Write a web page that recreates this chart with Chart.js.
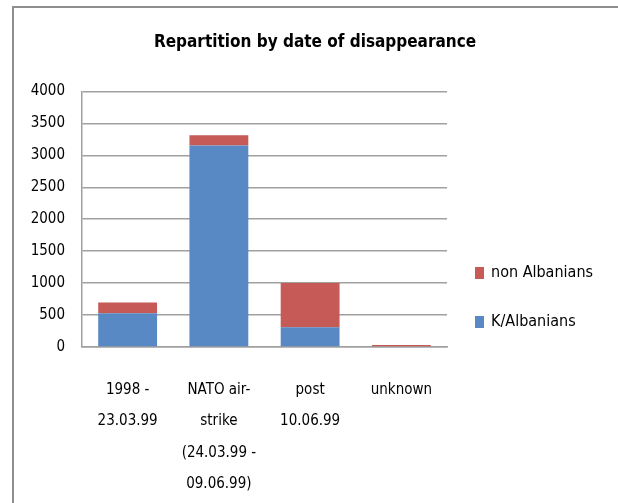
<!DOCTYPE html>
<html>
<head>
<meta charset="utf-8">
<script src="https://cdn.jsdelivr.net/npm/chart.js@4/dist/chart.umd.min.js"></script>
<style>
html, body { margin: 0; padding: 0; background: #fff; }
</style>
</head>
<body>
<canvas id="repartitionChart" width="618" height="503"></canvas>
<script>
// categories (multi-line labels as in the original)
var periods = [
    ['1998 -', '23.03.99'],
    ['NATO air-', 'strike', '(24.03.99 -', '09.06.99)'],
    ['post', '10.06.99'],
    'unknown'
];
var kAlbanians = [530, 3155, 310, 0];
var nonAlbanians = [165, 160, 690, 30];
var yMin = 0, yMax = 4000, yStep = 500;

var narrow = "'Liberation Sans Narrow', 'DejaVu Sans Condensed', 'Liberation Sans', sans-serif";

// grey frame round the chart (top and left edge only, like the screenshot)
var frame = {
    id: 'frame',
    beforeDraw: function (chart) {
        var ctx = chart.ctx;
        ctx.save();
        ctx.strokeStyle = '#8e8e8e';
        ctx.lineWidth = 2;
        ctx.beginPath();
        ctx.moveTo(13, chart.height);
        ctx.lineTo(13, 7);
        ctx.lineTo(chart.width, 7);
        ctx.stroke();
        ctx.restore();
    }
};

// legend on the right, lower half, series in reverse order
var sideLegend = {
    id: 'sideLegend',
    afterDraw: function (chart) {
        var ctx = chart.ctx, area = chart.chartArea;
        var items = chart.data.datasets.slice().reverse();
        ctx.save();
        ctx.font = '16px ' + narrow;
        ctx.textBaseline = 'middle';
        items.forEach(function (ds, i) {
            var y = area.bottom - 74 + i * 49;
            var x = area.right + 28;
            ctx.fillStyle = ds.backgroundColor;
            ctx.fillRect(x, y - 6, 9, 12);
            ctx.fillStyle = '#000';
            ctx.fillText(ds.label, x + 16, y);
        });
        ctx.restore();
    }
};

var ctx = document.getElementById('repartitionChart').getContext('2d');
new Chart(ctx, {
    type: 'bar',
    data: {
        labels: periods,
        datasets: [
            {label: 'K/Albanians', data: kAlbanians, backgroundColor: '#5889c4'},
            {label: 'non Albanians', data: nonAlbanians, backgroundColor: '#c55a57'}
        ]
    },
    options: {
        responsive: false,
        animation: false,
        layout: {padding: {left: 12, right: 0, top: 0, bottom: 0}},
        datasets: {bar: {categoryPercentage: 1, barPercentage: 0.645}},
        plugins: {
            legend: {display: false},
            tooltip: {enabled: false},
            title: {
                display: true,
                text: 'Repartition by date of disappearance',
                color: '#000',
                font: {family: narrow, size: 17, weight: 'bold', lineHeight: 1.2},
                padding: {top: 32, bottom: 39}
            }
        },
        scales: {
            x: {
                stacked: true,
                grid: {display: false, drawTicks: false},
                border: {display: true, color: '#a0a0a0', width: 1.5},
                ticks: {color: '#000', padding: 28, maxRotation: 0, autoSkip: false,
                        font: {family: narrow, size: 15, lineHeight: 2.07}},
                afterFit: function (s) { s.height = 156; }
            },
            y: {
                stacked: true,
                min: yMin,
                max: yMax,
                grid: {color: '#a0a0a0', lineWidth: 1.5, drawTicks: false},
                border: {display: true, color: '#a0a0a0', width: 1.5},
                ticks: {stepSize: yStep, color: '#000', padding: 17,
                        font: {family: narrow, size: 15},
                        callback: function (v) { return String(v); }},
                afterFit: function (s) { s.width = 70; }
            },
            // empty right-hand axis: keeps room for the legend without shifting the title
            legendSpace: {
                type: 'linear',
                position: 'right',
                grid: {display: false, drawTicks: false},
                border: {display: false},
                ticks: {display: false},
                afterFit: function (s) { s.width = 171; }
            }
        }
    },
    plugins: [frame, sideLegend]
});
</script>
</body>
</html>
